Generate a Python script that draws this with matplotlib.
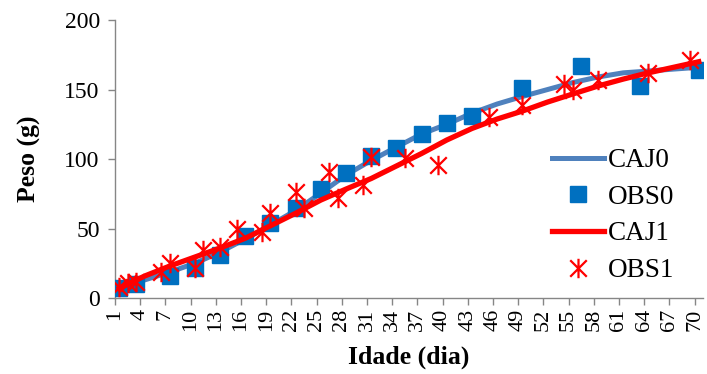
import matplotlib
matplotlib.use("Agg")
import matplotlib.pyplot as plt
from matplotlib.path import Path

# Dados (Idade em dias, Peso em g)
dias_curva = [1, 4, 7, 10, 13, 16, 19, 22, 25, 28, 31, 34, 37, 40, 43, 46, 49, 52, 55, 58, 61, 64, 67, 70]
caj0 = [6.5, 13, 18.7, 25, 33, 42.5, 52.5, 63, 75.5, 88.5, 99, 108.6, 118, 125, 133, 139.6, 145, 150, 155, 159, 162, 163.3, 164.7, 166]
caj1 = [7, 15.8, 23, 29.5, 36, 43, 52, 61, 70.5, 78.4, 86, 95, 104, 113.7, 122, 128.8, 134.5, 141, 146.8, 152.5, 157.5, 162, 166, 170]

dias_obs0 = [1, 3, 7, 10, 13, 16, 19, 22, 25, 28, 31, 34, 37, 40, 43, 49, 56, 63, 70]
obs0 = [7.2, 10, 15.9, 21.7, 31, 44.8, 54, 65, 78.7, 90, 102.5, 108, 118, 126, 131, 151.3, 167, 152.5, 164]

dias_obs1 = [1, 2, 3, 6, 7, 10, 11, 13, 15, 18, 19, 22, 23, 26, 27, 30, 31, 35, 39, 45, 49, 54, 55, 58, 64, 69]
obs1 = [7.9, 10.8, 11.5, 18.7, 25, 21.6, 34.5, 36.7, 49.6, 47.5, 61, 76, 65, 90.6, 72, 81, 101.4, 100.7, 95.7, 130.4, 138.8, 153.7, 149.6, 156.8, 161.7, 171.2]

rotulos_x = [str(d) for d in range(1, 71, 3)]

plt.rcParams["font.family"] = ["Liberation Serif", "DejaVu Serif"]

# Marcador asterisco (vertical + X), igual ao do Excel
asterisco = Path(
    [(0, -1), (0, 1), (-0.85, -0.85), (0.85, 0.85), (-0.85, 0.85), (0.85, -0.85)],
    [Path.MOVETO, Path.LINETO, Path.MOVETO, Path.LINETO, Path.MOVETO, Path.LINETO],
)

fig = plt.figure(figsize=(7.07, 3.74), dpi=100)
ax = fig.add_axes([0.1627, 0.203, 0.8316, 0.7435])

ax.plot(dias_curva, caj0, color="#4F81BD", lw=3.6, label="CAJ0", zorder=2)
ax.plot(dias_obs0, obs0, ls="none", marker="s", ms=11.2, color="#0070C0", label="OBS0", zorder=3)
ax.plot(dias_curva, caj1, color="#FF0000", lw=3.8, label="CAJ1", zorder=4)
ax.plot(dias_obs1, obs1, ls="none", marker=asterisco, ms=14, mfc="none", mec="#FF0000",
        mew=1.6, label="OBS1", zorder=5)

# Eixos
ax.set_xlim(0.5, 70.5)
ax.set_ylim(0, 200)
ax.set_yticks([0, 50, 100, 150, 200])
ax.set_xticks([d - 0.5 for d in range(1, 71, 3)])
ax.set_xticklabels(rotulos_x, rotation=90)
ax.tick_params(axis="both", color="#868686", length=5, width=1, direction="out")
ax.tick_params(axis="y", labelsize=17, pad=6)
ax.tick_params(axis="x", labelsize=16, pad=3)

for lado in ["top", "right"]:
    ax.spines[lado].set_visible(False)
for lado in ["left", "bottom"]:
    ax.spines[lado].set_color("#868686")
    ax.spines[lado].set_linewidth(1)

ax.set_xlabel("Idade (dia)", fontsize=18.5, fontweight="bold", labelpad=10)
ax.set_ylabel("Peso (g)", fontsize=18.5, fontweight="bold", labelpad=17)

leg = ax.legend(loc="upper left", bbox_to_anchor=(0.781, 0.604), bbox_transform=fig.transFigure,
                frameon=False, fontsize=19.5, handlelength=1.9, handletextpad=0.15,
                labelspacing=0.43, borderpad=0, borderaxespad=0)

fig.savefig("out.png", dpi=100)
